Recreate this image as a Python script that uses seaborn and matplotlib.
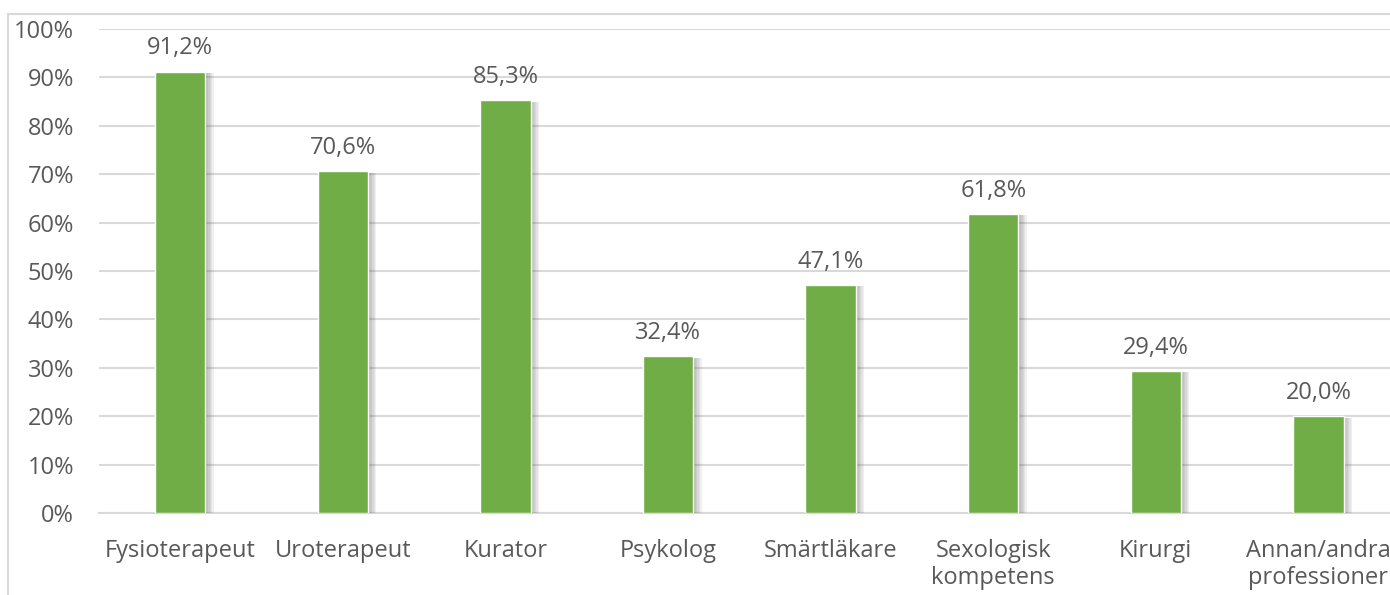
import pandas as pd
import matplotlib.pyplot as plt
import matplotlib.patheffects as pe
from matplotlib.patches import Rectangle
import seaborn as sns

# Data
categories = ["Fysioterapeut", "Uroterapeut", "Kurator", "Psykolog", "Smärtläkare",
              "Sexologisk\nkompetens", "Kirurgi", "Annan/andra\nprofessioner"]
values = [91.2, 70.6, 85.3, 32.4, 47.1, 61.8, 29.4, 20.0]
yticks = [0, 10, 20, 30, 40, 50, 60, 70, 80, 90, 100]

df = pd.DataFrame({"kategori": categories, "andel": values})

sns.set_style("white")
plt.rcParams['font.family'] = ['Open Sans', 'DejaVu Sans']
text_col = "#595959"
grid_col = "#d9d9d9"
fs = 17

fig = plt.figure(figsize=(13.9, 5.95), dpi=100)
ax = fig.add_axes([99 / 1390, 1 - 513 / 595, 1 - 99 / 1390, 484 / 595])

# grey chart frame (cut off on the right and bottom)
fig.patches.append(Rectangle((8 / 1390, -0.1), 1.2, 1 - 14 / 595 + 0.1,
                             transform=fig.transFigure, fill=False,
                             edgecolor=grid_col, linewidth=1.5, zorder=0))

sns.barplot(data=df, x="kategori", y="andel", color="#70ad47", saturation=1,
            width=0.31, ax=ax, zorder=3)

# soft drop shadow to the right of each bar
shadow = [pe.SimplePatchShadow(offset=(k, -1), shadow_rgbFace="#606060", alpha=0.09)
          for k in range(6, 0, -1)]
for bar in ax.patches:
    bar.set_path_effects(shadow + [pe.Normal()])

labels = [f"{v:.1f}%".replace(".", ",") for v in values]
ax.bar_label(ax.containers[0], labels=labels, padding=8, fontsize=fs, color=text_col)

ax.set_ylim(0, 100)
ax.set_xlim(-0.5, 7.44)
ax.set_yticks(yticks)
ax.set_yticklabels([f"{t}%" for t in yticks])
ax.yaxis.grid(True, color=grid_col, linewidth=1.5, zorder=0)
ax.set_axisbelow(True)
for s in ["top", "right", "left"]:
    ax.spines[s].set_visible(False)
ax.spines["bottom"].set_color(grid_col)
ax.spines["bottom"].set_linewidth(1.5)
ax.tick_params(axis="y", length=0, pad=18, labelsize=fs, labelcolor=text_col)
ax.tick_params(axis="x", length=0, pad=19, labelsize=fs, labelcolor=text_col)
for t in ax.get_xticklabels():
    t.set_linespacing(1.15)
ax.set_xlabel("")
ax.set_ylabel("")

fig.savefig("out.png", dpi=100)
